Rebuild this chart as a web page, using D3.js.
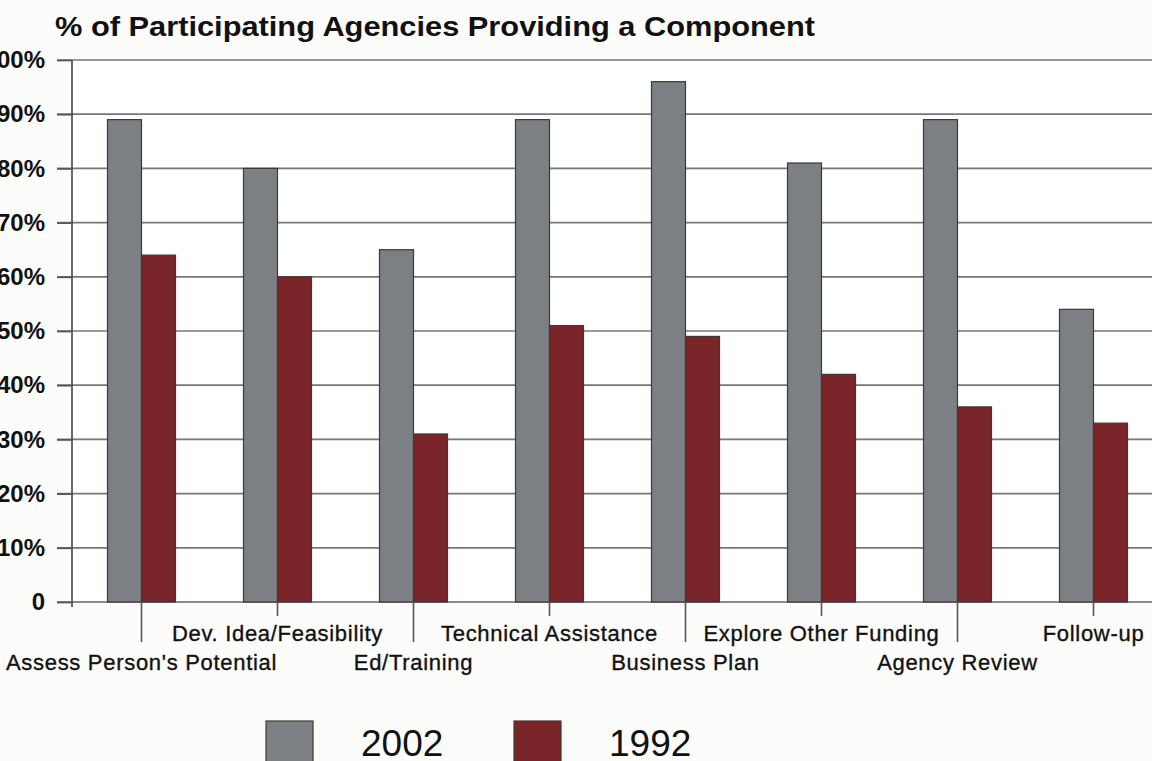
<!DOCTYPE html>
<html>
<head>
<meta charset="utf-8">
<script src="https://cdn.jsdelivr.net/npm/d3@7"></script>
<style>
  body { margin: 0; background: #fcfcfb; }
  svg { display: block; }
</style>
</head>
<body>
<div id="chart"></div>
<script>
// Data
var categories = ["Assess Person's Potential", "Dev. Idea/Feasibility", "Ed/Training",
                  "Technical Assistance", "Business Plan", "Explore Other Funding",
                  "Agency Review", "Follow-up"];
var series     = ["2002", "1992"];
var values2002 = [89, 80, 65, 89, 96, 81, 89, 54];
var values1992 = [64, 60, 31, 51, 49, 42, 36, 33];
var yTicks     = [0, 10, 20, 30, 40, 50, 60, 70, 80, 90, 100];

var chart_width  = 1152;
var chart_height = 761;
var colors = { "2002": "#7c8085", "1992": "#7a2529" };

var svg = d3.select("#chart")
    .append("svg")
    .attr("width", chart_width)
    .attr("height", chart_height);

// Title
svg.append("text")
    .attr("x", 55)
    .attr("y", 36)
    .attr("textLength", 760)
    .attr("lengthAdjust", "spacingAndGlyphs")
    .style("font-family", "'Liberation Sans', Arial, sans-serif")
    .style("font-weight", "bold")
    .style("font-size", "28px")
    .style("fill", "#111")
    .text("% of Participating Agencies Providing a Component");

// Scales
var x = d3.scaleBand()
    .domain(categories)
    .range([73.5, 1161.5])
    .paddingInner(0.5)
    .paddingOuter(0.25);

var xSeries = d3.scaleBand()
    .domain(series)
    .range([0, x.bandwidth()]);

var y = d3.scaleLinear()
    .domain([0, 100])
    .range([602, 60]);

// plot background
svg.append("rect")
    .attr("x", 72).attr("y", 60)
    .attr("width", chart_width - 72).attr("height", 542)
    .attr("fill", "#ffffff");

// gridlines
svg.append("g")
    .selectAll("line")
    .data(yTicks)
    .enter()
    .append("line")
    .attr("x1", 57)
    .attr("x2", chart_width)
    .attr("y1", function(d){ return y(d); })
    .attr("y2", function(d){ return y(d); })
    .attr("stroke", function(d){ return d === 0 ? "#666" : "#777"; })
    .attr("stroke-width", 1.7);

// y axis
var yAxis = d3.axisLeft(y)
    .tickValues(yTicks)
    .tickSize(15)
    .tickSizeOuter(0)
    .tickPadding(12)
    .tickFormat(function(d){ return d === 0 ? "0" : d + "%"; });

var yg = svg.append("g")
    .attr("transform", "translate(72,0)")
    .call(yAxis);
yg.select(".domain").attr("stroke", "#444").attr("stroke-width", 1.6)
    .attr("d", "M0,60V607");
yg.selectAll(".tick line").attr("stroke", "#555").attr("stroke-width", 1.7);
yg.selectAll(".tick text")
    .style("font-family", "'Liberation Sans', Arial, sans-serif")
    .style("font-weight", "bold")
    .style("font-size", "24px")
    .style("fill", "#111");

// bars
var rows = categories.map(function(c, i){
    return { cat: c, vals: [ { s: "2002", v: values2002[i] }, { s: "1992", v: values1992[i] } ] };
});

var groups = svg.append("g")
    .selectAll("g")
    .data(rows)
    .enter()
    .append("g")
    .attr("transform", function(d){ return "translate(" + x(d.cat) + ",0)"; });

groups.selectAll("rect")
    .data(function(d){ return d.vals; })
    .enter()
    .append("rect")
    .attr("x", function(d){ return xSeries(d.s); })
    .attr("y", function(d){ return y(d.v); })
    .attr("width", xSeries.bandwidth())
    .attr("height", function(d){ return y(0) - y(d.v); })
    .attr("fill", function(d){ return colors[d.s]; })
    .attr("stroke", "#3a3a3a")
    .attr("stroke-width", 1.2);

// category ticks and staggered labels
var xg = svg.append("g");
xg.selectAll("line")
    .data(categories)
    .enter()
    .append("line")
    .attr("x1", function(d){ return x(d) + x.bandwidth() / 2; })
    .attr("x2", function(d){ return x(d) + x.bandwidth() / 2; })
    .attr("y1", 602)
    .attr("y2", function(d, i){ return i % 2 === 0 ? 642 : 616; })
    .attr("stroke", "#555")
    .attr("stroke-width", 1.6);

xg.selectAll("text")
    .data(categories)
    .enter()
    .append("text")
    .attr("x", function(d){ return x(d) + x.bandwidth() / 2; })
    .attr("y", function(d, i){ return i % 2 === 0 ? 670 : 641; })
    .attr("text-anchor", "middle")
    .style("font-family", "'Liberation Sans', Arial, sans-serif")
    .style("font-size", "22px")
    .style("letter-spacing", "0.7px")
    .style("fill", "#111")
    .style("stroke", "#111")
    .style("stroke-width", "0.35px")
    .text(function(d){ return d; });

// legend
var legendX = [266, 514];
var legend = svg.append("g")
    .selectAll("g")
    .data(series)
    .enter()
    .append("g")
    .attr("transform", function(d, i){ return "translate(" + legendX[i] + ",721)"; });

legend.append("rect")
    .attr("width", 47)
    .attr("height", 47)
    .attr("fill", function(d){ return colors[d]; })
    .attr("stroke", "#3a3a3a")
    .attr("stroke-width", 1.2);

legend.append("text")
    .attr("x", 95)
    .attr("y", 35)
    .style("font-family", "'Liberation Sans', Arial, sans-serif")
    .style("font-size", "37px")
    .style("fill", "#111")
    .text(function(d){ return d; });
</script>
</body>
</html>
